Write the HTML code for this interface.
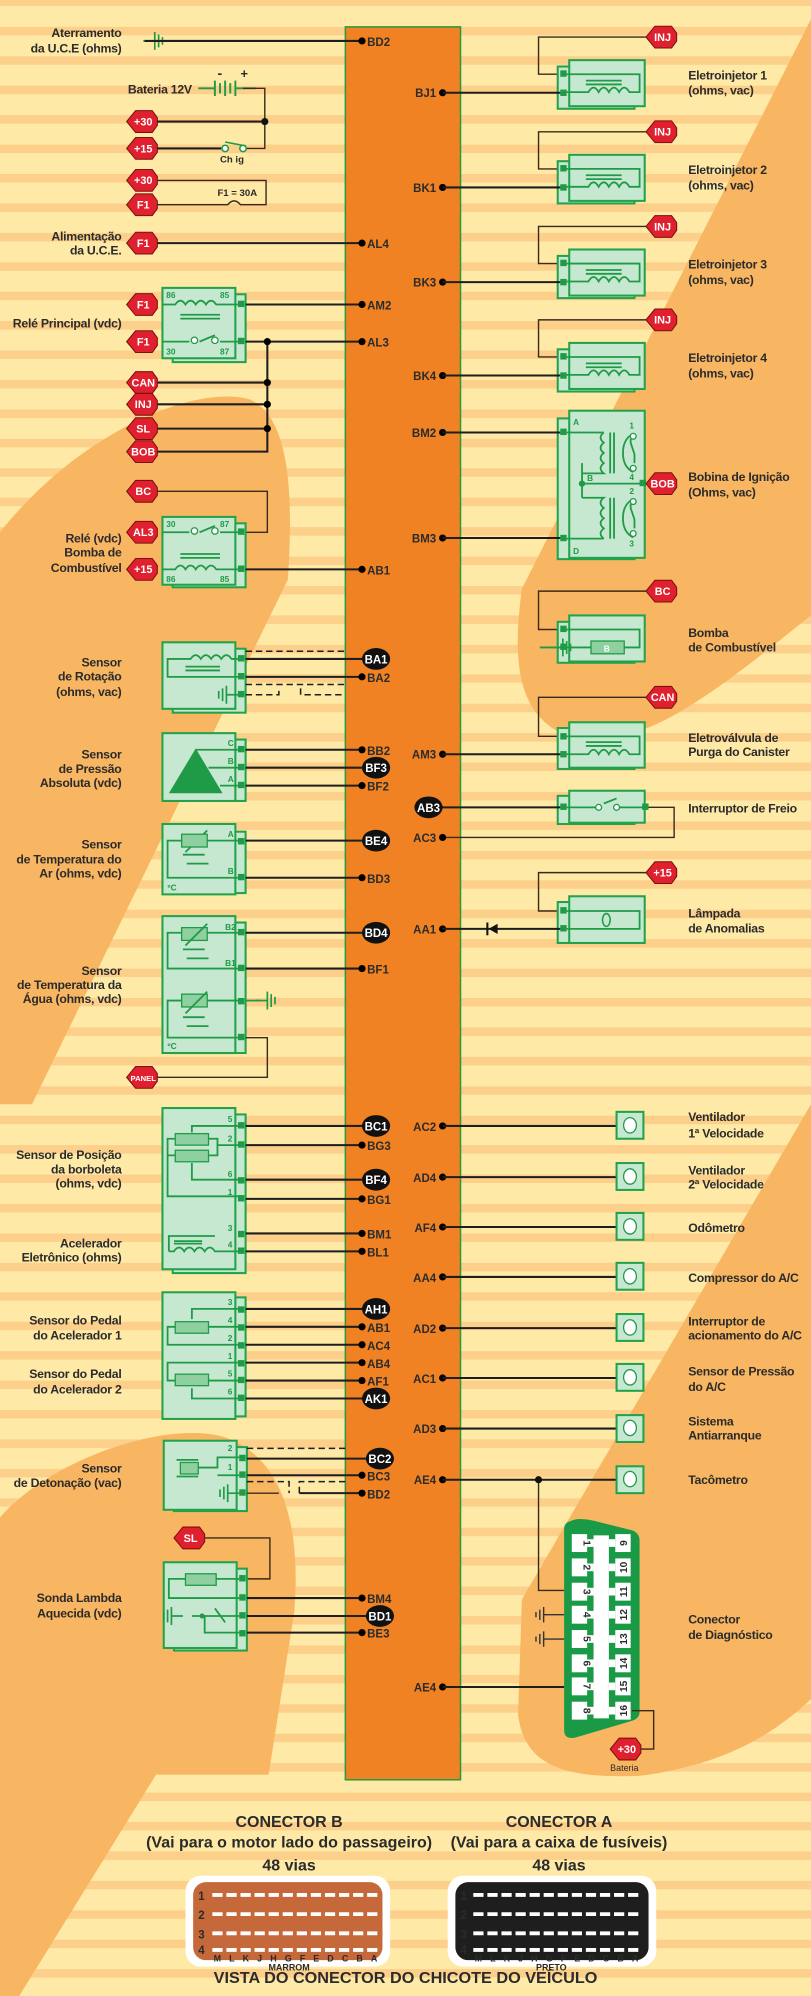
<!DOCTYPE html>
<html><head><meta charset="utf-8"><style>
html,body{margin:0;padding:0;background:#fee9a6}
svg{display:block}
text{font-family:"Liberation Sans",Arial,sans-serif;font-weight:bold;fill:#2b2b2b}
.l{font-size:9.6px;text-anchor:end;letter-spacing:-0.2px}
.r{font-size:9.6px;letter-spacing:-0.2px}
.p{font-size:9px}
.pe{font-size:9px;text-anchor:end}
.w{fill:#fff;font-size:9px;text-anchor:middle}
.t{fill:#fff;font-size:8.5px;text-anchor:middle}
.g{fill:#1f9a46;font-size:6.5px}
.ln{stroke:#1e1e1e;stroke-width:1.6;fill:none}
.tn{stroke:#3a2a1a;stroke-width:1.1;fill:none}
.gl{stroke:#1f9a46;stroke-width:1.4;fill:none}
.bx{fill:#c6e8d0;stroke:#22a24a;stroke-width:1.6}
.ds{stroke:#1e1e1e;stroke-width:1.2;stroke-dasharray:5,3;fill:none}
</style></head><body>
<svg width="811" height="1996" viewBox="0 0 634 1560" preserveAspectRatio="none" xmlns="http://www.w3.org/2000/svg">
<defs>
<pattern id="st" patternUnits="userSpaceOnUse" width="634" height="23" y="21">
<rect width="634" height="23" fill="#fee9a6"/><rect width="634" height="6.6" fill="#fccf8a"/>
</pattern>
<polygon id="tg" points="-12,0 -5,-8.5 8,-8.5 12,-3 12,3 8,8.5 -5,8.5" fill="#e0202e" stroke="#7a1010" stroke-width="0.8"/>
<g id="gnd"><path d="M0,0 H-9 M-9,-7 V7 M-12,-5 V5 M-15,-3 V3" stroke="#1f9a46" stroke-width="1.3" fill="none"/></g>
</defs>
<rect width="634" height="1560" fill="url(#st)"/>
<g fill="#f9b662">
<path d="M0,416 C60,340 150,300 195,312 C225,325 230,380 225,453 L25,863 L0,863 Z"/>
<path d="M0,1186 C40,1140 130,1110 175,1123 C225,1140 235,1200 230,1260 L210,1387 L122,1387 L15,1560 L0,1560 Z"/>
<path d="M634,15 L408,460 C400,520 405,560 445,576 C500,590 560,540 634,481 Z"/>
<path d="M634,863 L408,1250 L405,1340 C410,1380 440,1390 500,1388 C560,1380 600,1360 634,1328 Z"/>
</g>
<rect x="270" y="21" width="90" height="1370" fill="#f08223" stroke="#2a9a3f" stroke-width="1.2"/>

<text class="l" x="95" y="29">Aterramento</text><text class="l" x="95" y="41">da  U.C.E (ohms)</text>
<use href="#gnd" x="112" y="32" transform="scale(-1,1) translate(-224,0)"/>
<path class="ln" d="M113,32 H283"/><circle cx="283" cy="32" r="2.8"/><text class="p" x="287" y="36">BD2</text>

<text class="l" x="150" y="73">Bateria 12V</text>
<path d="M155,69 H168 M168,63 V75 M172,65 V73 M176,63 V75 M180,65 V73 M184,63 V75 M184,69 H200" stroke="#1f9a46" stroke-width="1.5" fill="none"/>
<text x="170" y="61" style="font-size:11px">-</text><text x="188" y="61" style="font-size:10px">+</text>
<path class="tn" d="M190,69 H207 V116 H192"/>
<use href="#tg" x="111" y="95"/><text class="t" x="112" y="98">+30</text>
<path class="ln" d="M123,95 H207"/><circle cx="207" cy="95" r="2.8" fill="#111"/>
<use href="#tg" x="111" y="116"/><text class="t" x="112" y="119">+15</text>
<path class="ln" d="M123,116 H173"/><circle cx="176" cy="116" r="2.5" fill="#fff" stroke="#1f9a46" stroke-width="1.2"/><circle cx="190" cy="116" r="2.5" fill="#fff" stroke="#1f9a46" stroke-width="1.2"/><path d="M176,111 L192,114" stroke="#1f9a46" stroke-width="1.2"/>
<text x="172" y="127" style="font-size:7.5px">Ch ig</text>
<use href="#tg" x="111" y="141"/><text class="t" x="112" y="144">+30</text>
<use href="#tg" x="111" y="160"/><text class="t" x="112" y="163">F1</text>
<path class="tn" d="M123,141 H208 V160 H188 q-5,-6 -10,0 H123"/>
<text x="170" y="153" style="font-size:7.5px">F1 = 30A</text>

<text class="l" x="95" y="188">Alimentação</text><text class="l" x="95" y="199">da U.C.E.</text>
<use href="#tg" x="111" y="190"/><text class="t" x="112" y="193">F1</text>
<path class="ln" d="M123,190 H283"/><circle cx="283" cy="190" r="2.8"/><text class="p" x="287" y="194">AL4</text>

<rect class="bx" x="135" y="230" width="57" height="53"/><rect class="bx" x="127" y="225" width="57" height="55"/>
<rect x="186" y="235" width="5" height="5" fill="#1f9a46"/><rect x="186" y="264" width="5" height="5" fill="#1f9a46"/>
<text class="g" x="130" y="233">86</text><text class="g" x="172" y="233">85</text><text class="g" x="130" y="277">30</text><text class="g" x="172" y="277">87</text>
<path class="gl" d="M127,238 H137 q4,-6 8,0 q4,-6 8,0 q4,-6 8,0 q4,-6 8,0 H186 M141,246 H172 M141,249 H172 M127,267 H148 M156,267 L168,262 M172,267 H186"/>
<circle cx="152" cy="266" r="2.5" fill="#fff" stroke="#1f9a46"/><circle cx="168" cy="266" r="2.5" fill="#fff" stroke="#1f9a46"/>
<text class="l" x="95" y="256">Relé Principal (vdc)</text>
<use href="#tg" x="111" y="238"/><text class="t" x="112" y="241">F1</text>
<use href="#tg" x="111" y="267"/><text class="t" x="112" y="270">F1</text>
<path class="ln" d="M192,238 H283 M192,267 H283"/><circle cx="283" cy="238" r="2.8"/><circle cx="283" cy="267" r="2.8"/>
<text class="p" x="287" y="242">AM2</text><text class="p" x="287" y="271">AL3</text>
<path class="ln" d="M209,267 V353 H123 M123,299 H209 M123,316 H209 M123,335 H209"/>
<circle cx="209" cy="267" r="2.8"/><circle cx="209" cy="299" r="2.8"/><circle cx="209" cy="316" r="2.8"/><circle cx="209" cy="335" r="2.8"/>
<use href="#tg" x="111" y="299"/><text class="t" x="112" y="302">CAN</text>
<use href="#tg" x="111" y="316"/><text class="t" x="112" y="319">INJ</text>
<use href="#tg" x="111" y="335"/><text class="t" x="112" y="338">SL</text>
<use href="#tg" x="111" y="353"/><text class="t" x="112" y="356">BOB</text>

<use href="#tg" x="111" y="384"/><text class="t" x="112" y="387">BC</text>
<path class="tn" d="M123,384 H209 V416 H192"/>
<rect class="bx" x="135" y="409" width="57" height="50"/><rect class="bx" x="127" y="404" width="57" height="53"/>
<rect x="186" y="413" width="5" height="5" fill="#1f9a46"/><rect x="186" y="442" width="5" height="5" fill="#1f9a46"/>
<text class="g" x="130" y="412">30</text><text class="g" x="172" y="412">87</text><text class="g" x="130" y="455">86</text><text class="g" x="172" y="455">85</text>
<path class="gl" d="M127,416 H148 M156,416 L168,411 M172,416 H186 M127,445 H137 q4,-6 8,0 q4,-6 8,0 q4,-6 8,0 q4,-6 8,0 H186 M141,433 H172 M141,436 H172"/>
<circle cx="152" cy="415" r="2.5" fill="#fff" stroke="#1f9a46"/><circle cx="168" cy="415" r="2.5" fill="#fff" stroke="#1f9a46"/>
<text class="l" x="95" y="424">Relé (vdc)</text><text class="l" x="95" y="435">Bomba de</text><text class="l" x="95" y="447">Combustível</text>
<use href="#tg" x="111" y="416"/><text class="t" x="112" y="419">AL3</text>
<use href="#tg" x="111" y="445"/><text class="t" x="112" y="448">+15</text>
<path class="ln" d="M192,445 H283"/><circle cx="283" cy="445" r="2.8"/><text class="p" x="287" y="449">AB1</text>

<rect class="bx" x="135" y="507" width="57" height="50"/><rect class="bx" x="127" y="502" width="57" height="52"/>
<rect x="186" y="512" width="5" height="5" fill="#1f9a46"/><rect x="186" y="526" width="5" height="5" fill="#1f9a46"/><rect x="186" y="540" width="5" height="5" fill="#1f9a46"/>
<path class="gl" d="M186,515 H181 q-4,-6 -8,0 q-4,-6 -8,0 q-4,-6 -8,0 q-4,-6 -8,0 H131 V529 H186 M145,521 H172 M145,524 H172"/>
<use href="#gnd" x="186" y="543"/>
<text class="l" x="95" y="521">Sensor</text><text class="l" x="95" y="532">de Rotação</text><text class="l" x="95" y="544">(ohms, vac)</text>
<path class="ds" d="M192,509 H270 M192,535 H270 M192,543 H218 V538 M235,538 V543 H270"/>
<path class="ln" d="M192,515 H285 M192,529 H283"/><ellipse cx="294" cy="515" rx="11" ry="8.5" fill="#111"/><text class="w" x="294" y="518.5">BA1</text>
<circle cx="283" cy="529" r="2.8"/><text class="p" x="287" y="533">BA2</text>

<rect class="bx" x="135" y="578" width="57" height="48"/><rect class="bx" x="127" y="573" width="57" height="53"/>
<polygon points="132,620 153,585 174,620" fill="#1f9a46"/>
<rect x="186" y="583" width="5" height="5" fill="#1f9a46"/><rect x="186" y="597" width="5" height="5" fill="#1f9a46"/><rect x="186" y="611" width="5" height="5" fill="#1f9a46"/>
<path class="gl" d="M153,586 H186 M163,600 H186 M172,614 H186"/>
<text class="g" x="178" y="583">C</text><text class="g" x="178" y="597">B</text><text class="g" x="178" y="611">A</text>
<text class="l" x="95" y="593">Sensor</text><text class="l" x="95" y="604">de Pressão</text><text class="l" x="95" y="615">Absoluta (vdc)</text>
<path class="ln" d="M192,586 H283 M192,600 H285 M192,614 H283"/>
<circle cx="283" cy="586" r="2.8"/><text class="p" x="287" y="590">BB2</text>
<ellipse cx="294" cy="600" rx="11" ry="8.5" fill="#111"/><text class="w" x="294" y="603.5">BF3</text>
<circle cx="283" cy="614" r="2.8"/><text class="p" x="287" y="618">BF2</text>

<rect class="bx" x="135" y="650" width="57" height="48"/><rect class="bx" x="127" y="644" width="57" height="55"/>
<rect x="186" y="655" width="5" height="5" fill="#1f9a46"/><rect x="186" y="683" width="5" height="5" fill="#1f9a46"/>
<path class="gl" d="M186,657 H162 M142,657 H131 V686 H186 M145,666 L162,649 M143,668 H160 M146,675 H163"/>
<rect x="142" y="652" width="20" height="10" fill="#8fd0a0" stroke="#1f9a46"/>
<text class="g" x="178" y="654">A</text><text class="g" x="178" y="683">B</text><text class="g" x="131" y="696">ºC</text>
<text class="l" x="95" y="663">Sensor</text><text class="l" x="95" y="675">de Temperatura do</text><text class="l" x="95" y="686">Ar (ohms, vdc)</text>
<path class="ln" d="M192,657 H285 M192,686 H283"/>
<ellipse cx="294" cy="657" rx="11" ry="8.5" fill="#111"/><text class="w" x="294" y="660.5">BE4</text>
<circle cx="283" cy="686" r="2.8"/><text class="p" x="287" y="690">BD3</text>

<rect class="bx" x="135" y="721" width="57" height="102"/><rect class="bx" x="127" y="716" width="57" height="107"/>
<rect x="186" y="726" width="5" height="5" fill="#1f9a46"/><rect x="186" y="754" width="5" height="5" fill="#1f9a46"/><rect x="186" y="780" width="5" height="5" fill="#1f9a46"/><rect x="186" y="808" width="5" height="5" fill="#1f9a46"/>
<rect x="142" y="725" width="20" height="10" fill="#8fd0a0" stroke="#1f9a46"/><rect x="142" y="777" width="20" height="10" fill="#8fd0a0" stroke="#1f9a46"/>
<path class="gl" d="M162,729 H186 M142,729 H131 V757 H186 M145,739 L162,722 M143,742 H160 M146,749 H163 M162,782 H186 M142,782 H131 V811 H186 M145,792 L162,775 M143,795 H160 M146,802 H163"/>
<text class="g" x="176" y="727">B2</text><text class="g" x="176" y="755">B1</text><text class="g" x="131" y="820">ºC</text>
<use href="#gnd" x="200" y="782" transform="translate(400,0) scale(-1,1)"/>
<path d="M192,782 H204" stroke="#1f9a46" stroke-width="1.4"/>
<text class="l" x="95" y="762">Sensor</text><text class="l" x="95" y="773">de Temperatura da</text><text class="l" x="95" y="784">Água (ohms, vdc)</text>
<path class="ln" d="M192,729 H285 M192,757 H283"/>
<ellipse cx="294" cy="729" rx="11" ry="8.5" fill="#111"/><text class="w" x="294" y="732.5">BD4</text>
<circle cx="283" cy="757" r="2.8"/><text class="p" x="287" y="761">BF1</text>
<path class="tn" d="M192,811 H209 V842 H123"/>
<use href="#tg" x="111" y="842"/><text class="t" x="112" y="845" style="font-size:6px">PANEL</text>

<rect class="bx" x="135" y="871" width="57" height="124"/><rect class="bx" x="127" y="866" width="57" height="126"/>
<g fill="#1f9a46"><rect x="186" y="877" width="5" height="5"/><rect x="186" y="892" width="5" height="5"/><rect x="186" y="920" width="5" height="5"/><rect x="186" y="934" width="5" height="5"/><rect x="186" y="962" width="5" height="5"/><rect x="186" y="975" width="5" height="5"/></g>
<rect x="137" y="886" width="26" height="9" fill="#8fd0a0" stroke="#1f9a46"/><rect x="137" y="899" width="26" height="9" fill="#8fd0a0" stroke="#1f9a46"/>
<path class="gl" d="M186,880 H150 V885 M163,890 H170 V903 H163 M170,895 H186 M137,890 H131 V935 H186 M137,903 H131 M150,909 V922 H186 M132,978 V966 H168 M136,970 H158 M136,972 H158 M132,978 H136 q4,-6 8,0 q4,-6 8,0 q4,-6 8,0 q4,-6 8,0 H186"/>
<text class="g" x="178" y="877">5</text><text class="g" x="178" y="892">2</text><text class="g" x="178" y="920">6</text><text class="g" x="178" y="934">1</text><text class="g" x="178" y="962">3</text><text class="g" x="178" y="975">4</text>
<text class="l" x="95" y="906">Sensor de  Posição</text><text class="l" x="95" y="917">da borboleta</text><text class="l" x="95" y="928">(ohms, vdc)</text>
<text class="l" x="95" y="975">Acelerador</text><text class="l" x="95" y="986">Eletrônico (ohms)</text>
<path class="ln" d="M192,880 H285 M192,895 H283 M192,922 H285 M192,937 H283 M192,964 H283 M192,978 H283"/>
<ellipse cx="294" cy="880" rx="11" ry="8.5" fill="#111"/><text class="w" x="294" y="883.5">BC1</text>
<circle cx="283" cy="895" r="2.8"/><text class="p" x="287" y="899">BG3</text>
<ellipse cx="294" cy="922" rx="11" ry="8.5" fill="#111"/><text class="w" x="294" y="925.5">BF4</text>
<circle cx="283" cy="937" r="2.8"/><text class="p" x="287" y="941">BG1</text>
<circle cx="283" cy="964" r="2.8"/><text class="p" x="287" y="968">BM1</text>
<circle cx="283" cy="978" r="2.8"/><text class="p" x="287" y="982">BL1</text>

<rect class="bx" x="135" y="1014" width="57" height="93"/><rect class="bx" x="127" y="1010" width="57" height="99"/>
<g fill="#1f9a46"><rect x="186" y="1021" width="5" height="5"/><rect x="186" y="1035" width="5" height="5"/><rect x="186" y="1049" width="5" height="5"/><rect x="186" y="1063" width="5" height="5"/><rect x="186" y="1076" width="5" height="5"/><rect x="186" y="1090" width="5" height="5"/></g>
<rect x="137" y="1033" width="26" height="9" fill="#8fd0a0" stroke="#1f9a46"/><rect x="137" y="1074" width="26" height="9" fill="#8fd0a0" stroke="#1f9a46"/>
<path class="gl" d="M186,1023 H150 V1031 M163,1037 H186 M137,1037 H131 V1051 H186 M186,1065 H131 V1079 H137 M163,1079 H186 M150,1085 V1093 H186"/>
<text class="g" x="178" y="1020">3</text><text class="g" x="178" y="1034">4</text><text class="g" x="178" y="1048">2</text><text class="g" x="178" y="1062">1</text><text class="g" x="178" y="1076">5</text><text class="g" x="178" y="1090">6</text>
<text class="l" x="95" y="1035">Sensor do Pedal</text><text class="l" x="95" y="1047">do Acelerador 1</text>
<text class="l" x="95" y="1077">Sensor do Pedal</text><text class="l" x="95" y="1089">do Acelerador 2</text>
<path class="ln" d="M192,1023 H285 M192,1037 H283 M192,1051 H283 M192,1065 H283 M192,1079 H283 M192,1093 H285"/>
<ellipse cx="294" cy="1023" rx="11" ry="8.5" fill="#111"/><text class="w" x="294" y="1026.5">AH1</text>
<circle cx="283" cy="1037" r="2.8"/><text class="p" x="287" y="1041">AB1</text>
<circle cx="283" cy="1051" r="2.8"/><text class="p" x="287" y="1055">AC4</text>
<circle cx="283" cy="1065" r="2.8"/><text class="p" x="287" y="1069">AB4</text>
<circle cx="283" cy="1079" r="2.8"/><text class="p" x="287" y="1083">AF1</text>
<ellipse cx="294" cy="1093" rx="11" ry="8.5" fill="#111"/><text class="w" x="294" y="1096.5">AK1</text>

<rect class="bx" x="136" y="1131" width="57" height="50"/><rect class="bx" x="128" y="1126" width="57" height="54"/>
<g fill="#1f9a46"><rect x="187" y="1137" width="5" height="5"/><rect x="187" y="1150" width="5" height="5"/><rect x="187" y="1164" width="5" height="5"/></g>
<rect x="141" y="1143" width="14" height="9" fill="#8fd0a0" stroke="#1f9a46"/>
<path class="gl" d="M138,1141 H155 M138,1154 H155 M155,1147 H170 V1139 H187 M170,1153 H187"/>
<use href="#gnd" x="187" y="1167"/>
<text class="g" x="178" y="1134">2</text><text class="g" x="178" y="1149">1</text>
<text class="l" x="95" y="1151">Sensor</text><text class="l" x="95" y="1162">de Detonação (vac)</text>
<path class="ds" d="M193,1132 H270 M193,1158 H226 V1167 M234,1167 V1158 H270"/>
<path class="tn" d="M193,1167 H218"/>
<path class="ln" d="M193,1140 H288 M193,1153 H283"/><ellipse cx="297" cy="1140" rx="11" ry="8.5" fill="#111"/><text class="w" x="297" y="1143.5">BC2</text>
<circle cx="283" cy="1153" r="2.8"/><text class="p" x="287" y="1157">BC3</text>
<path class="ln" d="M234,1167 H283"/><circle cx="283" cy="1167" r="2.8"/><text class="p" x="287" y="1171">BD2</text>

<use href="#tg" x="148" y="1202"/><text class="t" x="149" y="1205">SL</text>
<path class="tn" d="M160,1202 H211 V1234 H193"/>
<rect class="bx" x="136" y="1226" width="57" height="64"/><rect class="bx" x="128" y="1221" width="57" height="67"/>
<g fill="#1f9a46"><rect x="187" y="1231" width="5" height="5"/><rect x="187" y="1246" width="5" height="5"/><rect x="187" y="1260" width="5" height="5"/><rect x="187" y="1274" width="5" height="5"/></g>
<rect x="145" y="1230" width="24" height="9" fill="#8fd0a0" stroke="#1f9a46"/>
<path class="gl" d="M169,1234 H187 M145,1234 H132 V1249 H187 M150,1263 H187 M160,1263 V1276 H187 M168,1257 L176,1268"/>
<use href="#gnd" x="155" y="1263" transform="translate(-12,0)"/>
<circle cx="158" cy="1263" r="2" fill="#1f9a46"/>
<text class="l" x="95" y="1252">Sonda Lambda</text><text class="l" x="95" y="1264">Aquecida (vdc)</text>
<path class="ln" d="M193,1249 H283 M193,1263 H288 M193,1276 H283"/>
<circle cx="283" cy="1249" r="2.8"/><text class="p" x="287" y="1253">BM4</text>
<ellipse cx="297" cy="1263" rx="11" ry="8.5" fill="#111"/><text class="w" x="297" y="1266.5">BD1</text>
<circle cx="283" cy="1276" r="2.8"/><text class="p" x="287" y="1280">BE3</text>

<g>
<use href="#tg" x="517" y="29"/><text class="t" x="518" y="32">INJ</text>
<path class="tn" d="M505,29 H421 V58 H440"/>
<rect class="bx" x="436" y="52" width="60" height="33"/><rect class="bx" x="445" y="47" width="59" height="36"/>
<rect x="438" y="55" width="5" height="5" fill="#1f9a46"/><rect x="438" y="70" width="5" height="5" fill="#1f9a46"/>
<path class="gl" d="M443,58 H500 V72 H492 q-4,-7 -8,0 q-4,-7 -8,0 q-4,-7 -8,0 q-4,-7 -8,0 H443 M458,63 H486 M458,66 H486"/>
<text class="pe" x="341" y="76">BJ1</text><circle cx="346" cy="72.5" r="2.8"/><path class="ln" d="M346,72.5 H438"/>
<text class="r" x="538" y="62">Eletroinjetor 1</text><text class="r" x="538" y="74">(ohms, vac)</text>
</g>
<g transform="translate(0,74)">
<use href="#tg" x="517" y="29"/><text class="t" x="518" y="32">INJ</text>
<path class="tn" d="M505,29 H421 V58 H440"/>
<rect class="bx" x="436" y="52" width="60" height="33"/><rect class="bx" x="445" y="47" width="59" height="36"/>
<rect x="438" y="55" width="5" height="5" fill="#1f9a46"/><rect x="438" y="70" width="5" height="5" fill="#1f9a46"/>
<path class="gl" d="M443,58 H500 V72 H492 q-4,-7 -8,0 q-4,-7 -8,0 q-4,-7 -8,0 q-4,-7 -8,0 H443 M458,63 H486 M458,66 H486"/>
<text class="pe" x="341" y="76">BK1</text><circle cx="346" cy="72.5" r="2.8"/><path class="ln" d="M346,72.5 H438"/>
<text class="r" x="538" y="62">Eletroinjetor 2</text><text class="r" x="538" y="74">(ohms, vac)</text>
</g>
<g transform="translate(0,148)">
<use href="#tg" x="517" y="29"/><text class="t" x="518" y="32">INJ</text>
<path class="tn" d="M505,29 H421 V58 H440"/>
<rect class="bx" x="436" y="52" width="60" height="33"/><rect class="bx" x="445" y="47" width="59" height="36"/>
<rect x="438" y="55" width="5" height="5" fill="#1f9a46"/><rect x="438" y="70" width="5" height="5" fill="#1f9a46"/>
<path class="gl" d="M443,58 H500 V72 H492 q-4,-7 -8,0 q-4,-7 -8,0 q-4,-7 -8,0 q-4,-7 -8,0 H443 M458,63 H486 M458,66 H486"/>
<text class="pe" x="341" y="76">BK3</text><circle cx="346" cy="72.5" r="2.8"/><path class="ln" d="M346,72.5 H438"/>
<text class="r" x="538" y="62">Eletroinjetor 3</text><text class="r" x="538" y="74">(ohms, vac)</text>
</g>
<g transform="translate(0,221)">
<use href="#tg" x="517" y="29"/><text class="t" x="518" y="32">INJ</text>
<path class="tn" d="M505,29 H421 V58 H440"/>
<rect class="bx" x="436" y="52" width="60" height="33"/><rect class="bx" x="445" y="47" width="59" height="36"/>
<rect x="438" y="55" width="5" height="5" fill="#1f9a46"/><rect x="438" y="70" width="5" height="5" fill="#1f9a46"/>
<path class="gl" d="M443,58 H500 V72 H492 q-4,-7 -8,0 q-4,-7 -8,0 q-4,-7 -8,0 q-4,-7 -8,0 H443 M458,63 H486 M458,66 H486"/>
<text class="pe" x="341" y="76">BK4</text><circle cx="346" cy="72.5" r="2.8"/><path class="ln" d="M346,72.5 H438"/>
<text class="r" x="538" y="62">Eletroinjetor 4</text><text class="r" x="538" y="74">(ohms, vac)</text>
</g>

<rect class="bx" x="436" y="327" width="60" height="110"/><rect class="bx" x="445" y="321" width="59" height="115"/>
<rect x="438" y="335" width="5" height="5" fill="#1f9a46"/><rect x="438" y="418" width="5" height="5" fill="#1f9a46"/><rect x="500" y="375" width="5" height="5" fill="#1f9a46"/>
<path class="gl" d="M443,338 H472 M472,338 q-5,4 0,8 q-5,4 0,8 q-5,4 0,8 q-5,4 0,8 H455 M443,421 H472 M472,421 q-5,-4 0,-8 q-5,-4 0,-8 q-5,-4 0,-8 q-5,-4 0,-8 H455 M455,362 V389 M455,378 H504 M477,338 V370 M480,338 V370 M477,389 V421 M480,389 V421 M495,339 q-8,4 -8,15 q0,11 8,15 M495,390 q-8,4 -8,15 q0,11 8,15 M493,343 V346 L496,355 V362 M493,394 V397 L496,406 V413"/>
<g fill="#fff" stroke="#1f9a46"><circle cx="495" cy="341" r="2.3"/><circle cx="495" cy="366" r="2.3"/><circle cx="495" cy="392" r="2.3"/><circle cx="495" cy="417" r="2.3"/></g>
<circle cx="455" cy="378" r="2.5" fill="#1f9a46"/>
<text class="g" x="448" y="332">A</text><text class="g" x="448" y="433">D</text><text class="g" x="459" y="376">B</text>
<text class="g" x="492" y="335">1</text><text class="g" x="492" y="375">4</text><text class="g" x="492" y="386">2</text><text class="g" x="492" y="427">3</text>
<text class="pe" x="341" y="341.5">BM2</text><circle cx="346" cy="338" r="2.8"/><path class="ln" d="M346,338 H438"/>
<text class="pe" x="341" y="424">BM3</text><circle cx="346" cy="420.5" r="2.8"/><path class="ln" d="M346,420.5 H438"/>
<use href="#tg" x="517" y="378"/><text class="t" x="518" y="381">BOB</text>
<text class="r" x="538" y="376">Bobina de Ignição</text><text class="r" x="538" y="388">(Ohms, vac)</text>

<use href="#tg" x="517" y="462"/><text class="t" x="518" y="465">BC</text>
<path class="tn" d="M505,462 H421 V492 H440"/>
<rect class="bx" x="436" y="486" width="60" height="32"/><rect class="bx" x="445" y="481" width="59" height="36"/>
<rect x="438" y="489" width="5" height="5" fill="#1f9a46"/><rect x="438" y="503" width="5" height="5" fill="#1f9a46"/>
<path class="gl" d="M443,492 H500 V506 H488 M443,506 H462"/>
<rect x="462" y="501" width="26" height="10" fill="#8fd0a0" stroke="#1f9a46"/><text class="g" x="472" y="509" style="fill:#fff">B</text>
<use href="#gnd" x="431" y="506" transform="translate(862,0) scale(-1,1)"/><path d="M422,506 H438" stroke="#1f9a46" stroke-width="1.4"/>
<text class="r" x="538" y="498">Bomba</text><text class="r" x="538" y="509">de Combustível</text>

<use href="#tg" x="517" y="545"/><text class="t" x="518" y="548">CAN</text>
<path class="tn" d="M505,545 H421 V575.5 H440"/>
<rect class="bx" x="436" y="569" width="60" height="32"/><rect class="bx" x="445" y="564.5" width="59" height="35.5"/>
<rect x="438" y="573" width="5" height="5" fill="#1f9a46"/><rect x="438" y="587" width="5" height="5" fill="#1f9a46"/>
<path class="gl" d="M443,575.5 H500 V589.5 H492 q-4,-7 -8,0 q-4,-7 -8,0 q-4,-7 -8,0 q-4,-7 -8,0 H443 M458,580 H486 M458,583 H486"/>
<text class="pe" x="341" y="593">AM3</text><circle cx="346" cy="589.5" r="2.8"/><path class="ln" d="M346,589.5 H438"/>
<text class="r" x="538" y="580">Eletroválvula de</text><text class="r" x="538" y="591">Purga  do Canister</text>

<rect class="bx" x="436" y="622" width="60" height="22"/><rect class="bx" x="445" y="618" width="59" height="25"/>
<rect x="438" y="628" width="5" height="5" fill="#1f9a46"/><rect x="502" y="628" width="5" height="5" fill="#1f9a46"/>
<path class="gl" d="M443,631 H466 M472,628 L482,624 M484,631 H504"/>
<circle cx="468" cy="631" r="2.3" fill="#fff" stroke="#1f9a46"/><circle cx="482" cy="631" r="2.3" fill="#fff" stroke="#1f9a46"/>
<path class="ln" d="M344,631 H438"/><ellipse cx="335" cy="631" rx="11" ry="8.5" fill="#111"/><text class="w" x="335" y="634.5">AB3</text>
<path class="tn" d="M507,631 H527 V654.5 H346"/>
<text class="pe" x="341" y="658">AC3</text><circle cx="346" cy="654.5" r="2.8"/>
<text class="r" x="538" y="635">Interruptor de Freio</text>

<use href="#tg" x="517" y="682"/><text class="t" x="518" y="685">+15</text>
<path class="tn" d="M505,682 H421 V712 H440"/>
<rect class="bx" x="436" y="705" width="60" height="32"/><rect class="bx" x="445" y="700.5" width="59" height="36.5"/>
<rect x="438" y="709" width="5" height="5" fill="#1f9a46"/><rect x="438" y="723" width="5" height="5" fill="#1f9a46"/>
<path class="gl" d="M443,712 H500 V726 H443"/>
<ellipse cx="474" cy="719" rx="3" ry="5" fill="none" stroke="#1f9a46" stroke-width="1.2"/>
<text class="pe" x="341" y="729.5">AA1</text><circle cx="346" cy="726" r="2.8"/><path class="ln" d="M346,726 H438"/>
<path d="M381,721 V731" stroke="#111" stroke-width="1.6"/><polygon points="382,726 389,722 389,730" fill="#111"/>
<text class="r" x="538" y="717">Lâmpada</text><text class="r" x="538" y="729">de Anomalias</text>

<g>
<text class="pe" x="341" y="884">AC2</text><circle cx="346" cy="880" r="2.8"/><path class="ln" d="M346,880 H482"/><rect class="bx" x="482" y="869" width="21" height="21"/><ellipse cx="492.5" cy="879.5" rx="5" ry="6" fill="#fff" stroke="#1f9a46"/>
<text class="pe" x="341" y="924">AD4</text><circle cx="346" cy="920" r="2.8"/><path class="ln" d="M346,920 H482"/><rect class="bx" x="482" y="909" width="21" height="21"/><ellipse cx="492.5" cy="919.5" rx="5" ry="6" fill="#fff" stroke="#1f9a46"/>
<text class="pe" x="341" y="963">AF4</text><circle cx="346" cy="959" r="2.8"/><path class="ln" d="M346,959 H482"/><rect class="bx" x="482" y="948" width="21" height="21"/><ellipse cx="492.5" cy="958.5" rx="5" ry="6" fill="#fff" stroke="#1f9a46"/>
<text class="pe" x="341" y="1002">AA4</text><circle cx="346" cy="998" r="2.8"/><path class="ln" d="M346,998 H482"/><rect class="bx" x="482" y="987" width="21" height="21"/><ellipse cx="492.5" cy="997.5" rx="5" ry="6" fill="#fff" stroke="#1f9a46"/>
<text class="pe" x="341" y="1042">AD2</text><circle cx="346" cy="1038" r="2.8"/><path class="ln" d="M346,1038 H482"/><rect class="bx" x="482" y="1027" width="21" height="21"/><ellipse cx="492.5" cy="1037.5" rx="5" ry="6" fill="#fff" stroke="#1f9a46"/>
<text class="pe" x="341" y="1081">AC1</text><circle cx="346" cy="1077" r="2.8"/><path class="ln" d="M346,1077 H482"/><rect class="bx" x="482" y="1066" width="21" height="21"/><ellipse cx="492.5" cy="1076.5" rx="5" ry="6" fill="#fff" stroke="#1f9a46"/>
<text class="pe" x="341" y="1120">AD3</text><circle cx="346" cy="1116.5" r="2.8"/><path class="ln" d="M346,1116.5 H482"/><rect class="bx" x="482" y="1106" width="21" height="21"/><ellipse cx="492.5" cy="1116" rx="5" ry="6" fill="#fff" stroke="#1f9a46"/>
<text class="pe" x="341" y="1160">AE4</text><circle cx="346" cy="1156.5" r="2.8"/><path class="ln" d="M346,1156.5 H482"/><rect class="bx" x="482" y="1146" width="21" height="21"/><ellipse cx="492.5" cy="1156" rx="5" ry="6" fill="#fff" stroke="#1f9a46"/>
</g>
<text class="r" x="538" y="876">Ventilador</text><text class="r" x="538" y="889">1ª Velocidade</text>
<text class="r" x="538" y="918">Ventilador</text><text class="r" x="538" y="929">2ª Velocidade</text>
<text class="r" x="538" y="963">Odômetro</text>
<text class="r" x="538" y="1002">Compressor do A/C</text>
<text class="r" x="538" y="1036">Interruptor de</text><text class="r" x="538" y="1047">acionamento do A/C</text>
<text class="r" x="538" y="1075">Sensor de Pressão</text><text class="r" x="538" y="1087">do A/C</text>
<text class="r" x="538" y="1114">Sistema</text><text class="r" x="538" y="1125">Antiarranque</text>
<text class="r" x="538" y="1160">Tacômetro</text>

<path class="tn" d="M421,1156.5 V1243 H441"/><circle cx="421" cy="1156.5" r="2.8" fill="#111"/>
<path d="M446,1189 Q452,1185 470,1190 L494,1196 Q500,1198 500,1204 V1338 Q500,1343 494,1345 L450,1358 Q441,1360 441,1352 V1195 Q441,1190 446,1189 Z" fill="#1a9a46"/>
<rect x="464" y="1200" width="12" height="143" fill="#fff"/>
<g fill="#fff">
<rect x="447" y="1199" width="12" height="14"/><rect x="447" y="1218" width="12" height="14"/><rect x="447" y="1237" width="12" height="14"/><rect x="447" y="1255" width="12" height="14"/><rect x="447" y="1274" width="12" height="14"/><rect x="447" y="1293" width="12" height="14"/><rect x="447" y="1311" width="12" height="14"/><rect x="447" y="1330" width="12" height="14"/>
<rect x="481" y="1199" width="12" height="14"/><rect x="481" y="1218" width="12" height="14"/><rect x="481" y="1237" width="12" height="14"/><rect x="481" y="1255" width="12" height="14"/><rect x="481" y="1274" width="12" height="14"/><rect x="481" y="1293" width="12" height="14"/><rect x="481" y="1311" width="12" height="14"/><rect x="481" y="1330" width="12" height="14"/>
<rect x="459" y="1203" width="5" height="6"/><rect x="459" y="1222" width="5" height="6"/><rect x="459" y="1241" width="5" height="6"/><rect x="459" y="1259" width="5" height="6"/><rect x="459" y="1278" width="5" height="6"/><rect x="459" y="1297" width="5" height="6"/><rect x="459" y="1315" width="5" height="6"/><rect x="459" y="1334" width="5" height="6"/>
<rect x="476" y="1203" width="5" height="6"/><rect x="476" y="1222" width="5" height="6"/><rect x="476" y="1241" width="5" height="6"/><rect x="476" y="1259" width="5" height="6"/><rect x="476" y="1278" width="5" height="6"/><rect x="476" y="1297" width="5" height="6"/><rect x="476" y="1315" width="5" height="6"/><rect x="476" y="1334" width="5" height="6"/>
</g>
<g style="font-size:8px;fill:#1a9a46;text-anchor:middle">
<text transform="translate(456,1206) rotate(90)">1</text><text transform="translate(456,1225) rotate(90)">2</text><text transform="translate(456,1244) rotate(90)">3</text><text transform="translate(456,1262) rotate(90)">4</text><text transform="translate(456,1281) rotate(90)">5</text><text transform="translate(456,1300) rotate(90)">6</text><text transform="translate(456,1318) rotate(90)">7</text><text transform="translate(456,1337) rotate(90)">8</text>
<text transform="translate(490,1206) rotate(-90)">9</text><text transform="translate(490,1225) rotate(-90)">10</text><text transform="translate(490,1244) rotate(-90)">11</text><text transform="translate(490,1262) rotate(-90)">12</text><text transform="translate(490,1281) rotate(-90)">13</text><text transform="translate(490,1300) rotate(-90)">14</text><text transform="translate(490,1318) rotate(-90)">15</text><text transform="translate(490,1337) rotate(-90)">16</text>
</g>
<path d="M441,1262 H425 M425,1256 V1268 M422,1258 V1266 M419,1260 V1264 M441,1281 H425 M425,1275 V1287 M422,1277 V1285 M419,1279 V1283" stroke="#333" stroke-width="1.1" fill="none"/>
<text class="pe" x="341" y="1322">AE4</text><circle cx="346" cy="1318.5" r="2.8"/><path class="ln" d="M346,1318.5 H441"/>
<text class="r" x="538" y="1269">Conector</text><text class="r" x="538" y="1281">de Diagnóstico</text>
<path class="tn" d="M494,1337 H511 V1367 H501"/>
<use href="#tg" x="489" y="1367"/><text class="t" x="490" y="1370">+30</text>
<text x="477" y="1384" style="font-size:7px;font-weight:normal">Bateria</text>

<g style="font-size:12.5px;text-anchor:middle">
<text x="226" y="1428">CONECTOR B</text><text x="226" y="1444">(Vai para o motor lado do passageiro)</text><text x="226" y="1462">48 vias</text>
<text x="437" y="1428">CONECTOR  A</text><text x="437" y="1444">(Vai para a caixa de fusíveis)</text><text x="437" y="1462">48 vias</text>
<text x="317" y="1550" textLength="300" lengthAdjust="spacingAndGlyphs">VISTA DO CONECTOR DO CHICOTE DO VEÍCULO</text>
</g>
<rect x="145" y="1466" width="160" height="71" rx="12" fill="#fff"/>
<rect x="151" y="1471" width="148" height="61" rx="10" fill="#c5683a"/>
<rect x="350" y="1466" width="163" height="71" rx="12" fill="#fff"/>
<rect x="356" y="1471" width="151" height="61" rx="10" fill="#1e1e1e"/>
<path d="M166,1481 H296 M166,1496 H296 M166,1511 H296 M166,1524 H296" stroke="#fff" stroke-width="3" stroke-dasharray="8,3"/>
<path d="M370,1481 H500 M370,1496 H500 M370,1511 H500 M370,1524 H500" stroke="#fff" stroke-width="3" stroke-dasharray="8,3"/>
<g style="fill:#fff;font-size:9px">
<text x="155" y="1485">1</text><text x="155" y="1500">2</text><text x="155" y="1515">3</text><text x="155" y="1527">4</text>
<text x="360" y="1485">1</text><text x="360" y="1500">2</text><text x="360" y="1515">3</text><text x="360" y="1527">4</text>
<text x="167" y="1533" style="font-size:7px" textLength="128" lengthAdjust="spacing">MLKJHGFEDCBA</text>
<text x="371" y="1533" style="font-size:7px" textLength="128" lengthAdjust="spacing">MLKJHGFEDCBA</text>
<text x="226" y="1540" style="font-size:7px;text-anchor:middle">MARROM</text>
<text x="431" y="1540" style="font-size:7px;text-anchor:middle">PRETO</text>
</g>
</svg>
</body></html>
